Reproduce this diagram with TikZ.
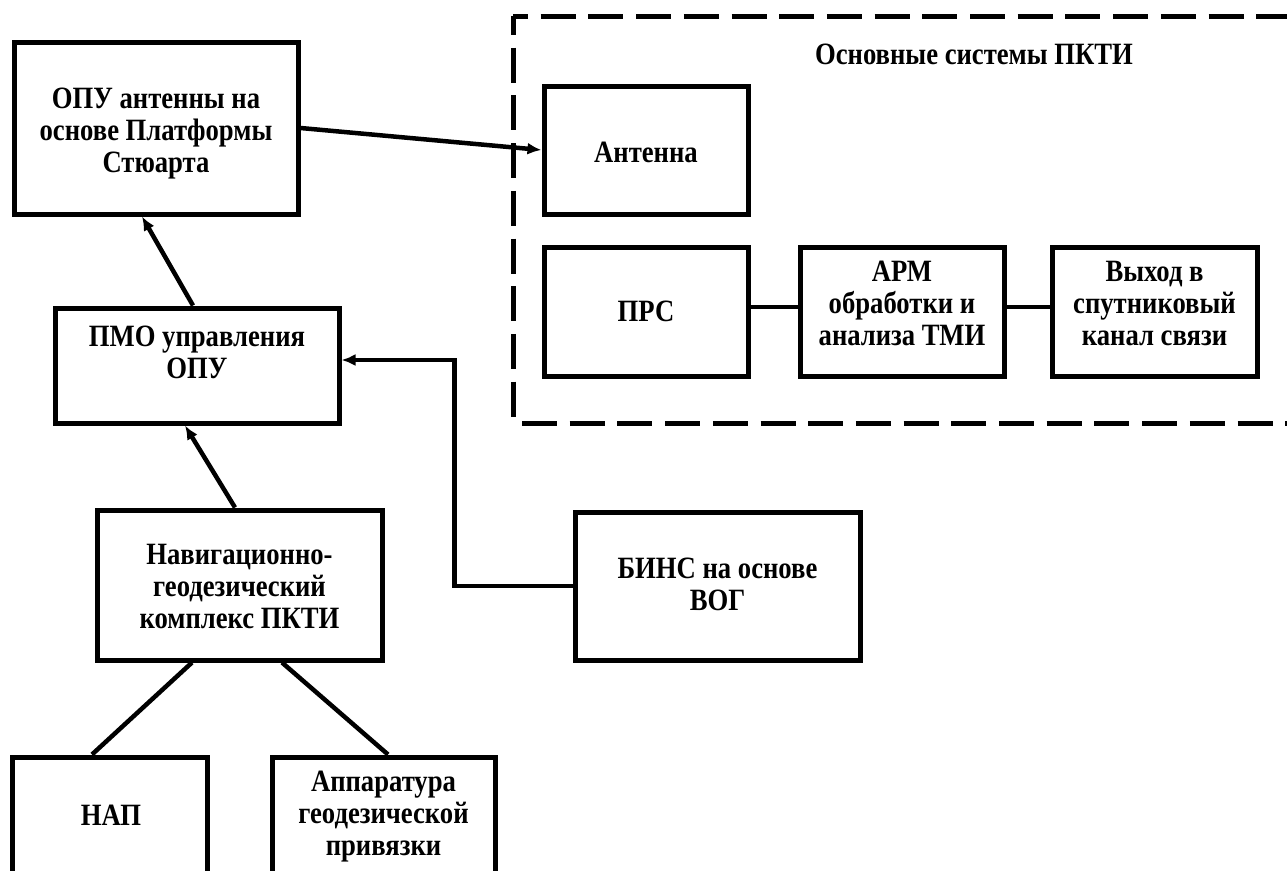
\documentclass[tikz,border=0pt]{standalone}
\usepackage{fontspec}
\setmainfont{Liberation Serif}
\newfontfamily\lblfont{Liberation Serif}[FakeStretch=0.86]
\usetikzlibrary{arrows.meta}
\begin{document}
\begin{tikzpicture}[x=1pt,y=-1pt,
  box/.style={draw,line width=5pt,inner sep=0pt},
  lbl/.style={align=center,inner sep=0pt,font=\lblfont\bfseries\fontsize{31}{32}\selectfont},
  link/.style={line width=4.5pt},
  arr/.style={line width=4.5pt,-{Latex[length=14pt,width=12pt]}},
  frame/.style={line width=5pt,dash pattern=on 35pt off 12.7pt}]
\path[use as bounding box] (0,0) rectangle (1287,870);
\clip (0,0) rectangle (1287,870);

% left column
\node[box,minimum width=284pt,minimum height=172pt] (opu) at (156,128) {};
\node[lbl] (opuT) at (156,134) {ОПУ антенны на\\основе Платформы\\Стюарта};

\node[box,minimum width=284pt,minimum height=115pt] (pmo) at (197,365.5) {};
\node[lbl] (pmoT) at (197,352) {ПМО управления\\ОПУ};

\node[box,minimum width=285pt,minimum height=150pt] (nav) at (239.5,585) {};
\node[lbl] (navT) at (239.5,586) {Навигационно-\\геодезический\\комплекс ПКТИ};

\node[box,minimum width=285pt,minimum height=148pt] (bins) at (717.5,586) {};
\node[lbl] (binsT) at (717.5,584) {БИНС на основе\\ВОГ};

% lower boxes run past the lower edge
\node[box,minimum width=195pt,minimum height=160pt] (nap) at (109.5,837) {};
\node[lbl] (napT) at (111,815) {НАП};

\node[box,minimum width=223pt,minimum height=160pt] (app) at (383.5,837) {};
\node[lbl] (appT) at (383.5,817) {Аппаратура\\геодезической\\привязки};

% main systems group
\draw[frame,dash phase=20pt] (513,16) -- (1300,16);
\draw[frame,dash phase=16pt] (513,16) -- (513,419);
\draw[frame] (522,423) -- (1300,423);
\node[lbl] (title) at (974,54) {Основные системы ПКТИ};

\node[box,minimum width=204pt,minimum height=128pt] (ant) at (646,150) {};
\node[lbl] (antT) at (646,152) {Антенна};

\node[box,minimum width=204pt,minimum height=129pt] (prs) at (646,311.5) {};
\node[lbl] (prsT) at (646,311) {ПРС};

\node[box,minimum width=204pt,minimum height=129pt] (arm) at (902,311.5) {};
\node[lbl] (armT) at (902,303) {АРМ\\обработки и\\анализа ТМИ};

\node[box,minimum width=205pt,minimum height=129pt] (out) at (1154.5,311.5) {};
\node[lbl] (outT) at (1154.5,303) {Выход в\\спутниковый\\канал связи};

% connectors
\draw[arr] (opu.east) -- (ant.west);
\draw[arr] ([xshift=-4pt]pmo.north) -- ([xshift=-14pt]opu.south);
\draw[arr] ([xshift=-4.5pt]nav.north) -- ([xshift=-12pt]pmo.south);
\draw[arr] (bins.west) -- ++(-118,0) |- ([yshift=5.5pt]pmo.east);
\draw[link] ([yshift=4.5pt]prs.east) -- ([yshift=4.5pt]arm.west);
\draw[link] ([yshift=4.5pt]arm.east) -- ([yshift=4.5pt]out.west);
\draw[link] ([xshift=-47.5pt]nav.south) -- ([xshift=-17.5pt]nap.north);
\draw[link] ([xshift=42.5pt]nav.south) -- ([xshift=4.5pt]app.north);
\end{tikzpicture}
\end{document}
